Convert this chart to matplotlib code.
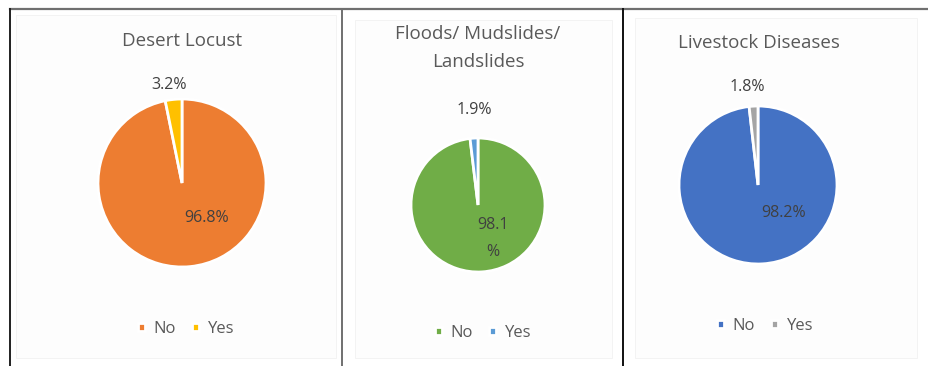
import matplotlib

matplotlib.use("Agg")

import matplotlib.pyplot as plt
from matplotlib.lines import Line2D
from matplotlib.patches import Rectangle

plt.rcParams["font.family"] = ["Open Sans", "DejaVu Sans"]

# shares of respondents reporting each shock (No / Yes)
categories = ["No", "Yes"]
titles = ["Desert Locust", "Floods/ Mudslides/\nLandslides", "Livestock Diseases"]
locust = [96.8, 3.2]
floods = [98.1, 1.9]
livestock = [98.2, 1.8]
no_labels = ["96.8%", "98.1\n%", "98.2%"]
yes_labels = ["3.2%", "1.9%", "1.8%"]

colours = [
    ["#ED7D31", "#FFC000"],
    ["#70AD47", "#5B9BD5"],
    ["#4472C4", "#A5A5A5"],
]

W, H = 929, 366
fig = plt.figure(figsize=(W / 100, H / 100), dpi=100)
fig.patch.set_facecolor("white")


def px(x, y):
    # pixel coords (origin top left) -> figure fraction
    return x / W, 1 - y / H


# table borders round the three charts
fig.add_artist(Line2D([10 / W, 1], [1 - 9 / H] * 2, color="#707070", lw=1.6))
for xb, col in [(10, "#202020"), (342, "#707070"), (623, "#101010")]:
    fig.add_artist(Line2D([xb / W] * 2, [0, 1 - 9 / H], color=col, lw=1.4))

# chart areas (very light grey fill)
for x0, y0, x1, y1 in [(16, 15, 336, 358), (355, 20, 612, 358), (635, 18, 917, 358)]:
    fig.add_artist(Rectangle(px(x0, y1), (x1 - x0) / W, (y1 - y0) / H,
                             transform=fig.transFigure, facecolor="#FDFDFD",
                             edgecolor="#F2F2F2", lw=0.6, zorder=0))

# centre x, centre y, radius in pixels
geom = [(182, 183, 84), (478, 205, 67), (758, 185, 79)]
title_xy = [(182, 41), (478, 48), (759, 43)]
legend_xy = [(186, 329), (483, 333), (765, 326)]
# label positions in pie units (radius = 1)
yes_pos = [(-0.15, 1.17), (-0.05, 1.42), (-0.13, 1.24)]
no_pos = [(0.29, -0.42), (0.22, -0.5), (0.32, -0.36)]

for i, vals in enumerate([locust, floods, livestock]):
    cx, cy, r = geom[i]
    x0, y0 = px(cx - r, cy + r)
    ax = fig.add_axes([x0, y0, 2 * r / W, 2 * r / H])
    wedges, _ = ax.pie(vals, colors=colours[i], startangle=90, counterclock=False,
                       radius=1, wedgeprops=dict(edgecolor="white", linewidth=2))
    ax.set_xlim(-1, 1)
    ax.set_ylim(-1, 1)
    ax.axis("off")

    ax.text(no_pos[i][0], no_pos[i][1], no_labels[i], ha="center", va="center",
            fontsize=11.5, color="#404040", linespacing=1.9)
    ax.text(yes_pos[i][0], yes_pos[i][1], yes_labels[i], ha="center", va="center",
            fontsize=11.5, color="#404040")

    tx, ty = px(*title_xy[i])
    fig.text(tx, ty, titles[i], ha="center", va="center", fontsize=13.5,
             color="#595959", linespacing=1.75)

    lx, ly = px(*legend_xy[i])
    fig.legend(wedges, categories, loc="center", bbox_to_anchor=(lx, ly),
               ncol=2, frameon=False, fontsize=12, handlelength=0.42,
               handleheight=0.42, handletextpad=0.5, columnspacing=1.0,
               labelcolor="#595959")

fig.savefig("out.png", dpi=100)
